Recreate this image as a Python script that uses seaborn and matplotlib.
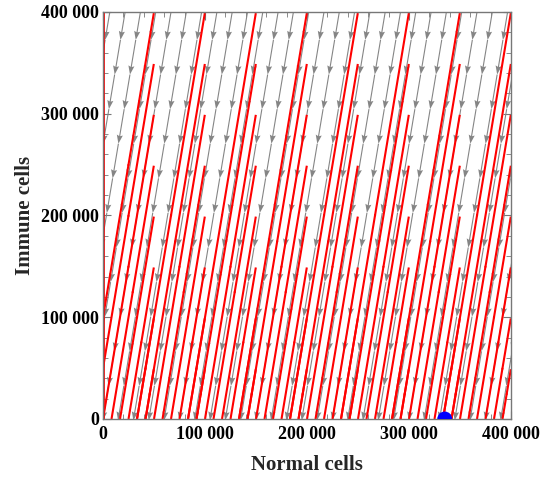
import numpy as np
import matplotlib
matplotlib.use("Agg")
import matplotlib.pyplot as plt
from matplotlib.ticker import MultipleLocator, FuncFormatter
import seaborn as sns

# Plot range (cells)
X_MAX = 400000
Y_MAX = 400000

# Direction of the flow (dx, dy per step)
FLOW_DX = -1.0
FLOW_DY = -6.0

# Initial conditions of the red trajectories (grid of starting points)
START_NORMAL = [50000, 100000, 150000, 200000, 250000, 300000, 350000, 400000]
START_IMMUNE = [50000, 100000, 150000, 200000, 250000, 300000, 350000, 400000]

# Invariant trajectory on the immune axis (normal cells = 0)
AXIS_NORMAL = [0, 0]
AXIS_IMMUNE = [0, 400000]

# Equilibrium point
EQ_NORMAL = [335000]
EQ_IMMUNE = [0]

# Gray stream field: where each stream line crosses y = 0, and rows of arrow heads
STREAM_X0 = np.arange(-90000, 420000, 15000)
ARROW_ROWS = np.arange(-1500, 450000, 34000)


def fmt(v, pos):
    return f"{int(round(v)):,}".replace(",", " ")


def main():
    sns.set_theme(style="ticks")
    plt.rcParams['font.family'] = ['Liberation Serif', 'DejaVu Serif']
    plt.rcParams['font.weight'] = 'bold'

    fig = plt.figure(figsize=(5.5, 4.79), dpi=100)
    ax = fig.add_axes([0.1873, 0.1253, 0.7418, 0.8497])

    # gray stream lines: chained arrows along the flow
    x0, yr = np.meshgrid(STREAM_X0, ARROW_ROWS)
    px = x0 + yr * FLOW_DX / FLOW_DY
    step = ARROW_ROWS[1] - ARROW_ROWS[0]
    qu = np.full(px.shape, step * FLOW_DX / -FLOW_DY)
    qv = np.full(px.shape, -step)
    ax.quiver(px, yr, qu, qv, angles="xy", scale_units="xy", scale=1,
              color="#858585", width=0.0027, headwidth=5.5, headlength=8,
              headaxislength=7, pivot="tail", zorder=1)

    # red trajectories from the grid of initial conditions
    gx = np.linspace(0, X_MAX, 401)
    gy = np.linspace(0, Y_MAX, 401)
    U = np.full((len(gy), len(gx)), FLOW_DX)
    V = np.full((len(gy), len(gx)), FLOW_DY)
    sx, sy = np.meshgrid(START_NORMAL, START_IMMUNE)
    starts = np.column_stack([sx.ravel(), sy.ravel()])
    ax.streamplot(gx, gy, U, V, start_points=starts, color="#ff0000",
                  density=12, linewidth=1.5, arrowstyle="-",
                  integration_direction="forward", broken_streamlines=False,
                  minlength=0.0001, maxlength=10, zorder=2)
    ax.plot(AXIS_NORMAL, AXIS_IMMUNE, color="#ff0000", linewidth=2, zorder=2)

    sns.scatterplot(x=EQ_NORMAL, y=EQ_IMMUNE, s=115, color="#0000ff",
                    edgecolor="none", ax=ax, zorder=5, clip_on=True)

    ax.set_xlim(0, X_MAX)
    ax.set_ylim(0, Y_MAX)
    ax.xaxis.set_major_locator(MultipleLocator(100000))
    ax.yaxis.set_major_locator(MultipleLocator(100000))
    ax.xaxis.set_minor_locator(MultipleLocator(20000))
    ax.yaxis.set_minor_locator(MultipleLocator(20000))
    ax.xaxis.set_major_formatter(FuncFormatter(fmt))
    ax.yaxis.set_major_formatter(FuncFormatter(fmt))
    ax.tick_params(which="both", direction="in", top=True, right=True,
                   color="#777777", labelsize=13, labelcolor="black")
    ax.tick_params(which="major", length=6, width=0.8)
    ax.tick_params(which="minor", length=3.5, width=0.6)
    ax.tick_params(axis="x", pad=5)
    ax.tick_params(axis="y", pad=3)
    for lab in ax.get_xticklabels() + ax.get_yticklabels():
        lab.set_fontweight("bold")
    for sp in ax.spines.values():
        sp.set_color("#777777")
        sp.set_linewidth(1.0)

    ax.set_xlabel("Normal cells", fontsize=15, fontweight="bold", labelpad=9)
    ax.set_ylabel("Immune cells", fontsize=15, fontweight="bold", labelpad=4)

    fig.savefig("out.png", dpi=100)
    plt.close(fig)


if __name__ == "__main__":
    main()
